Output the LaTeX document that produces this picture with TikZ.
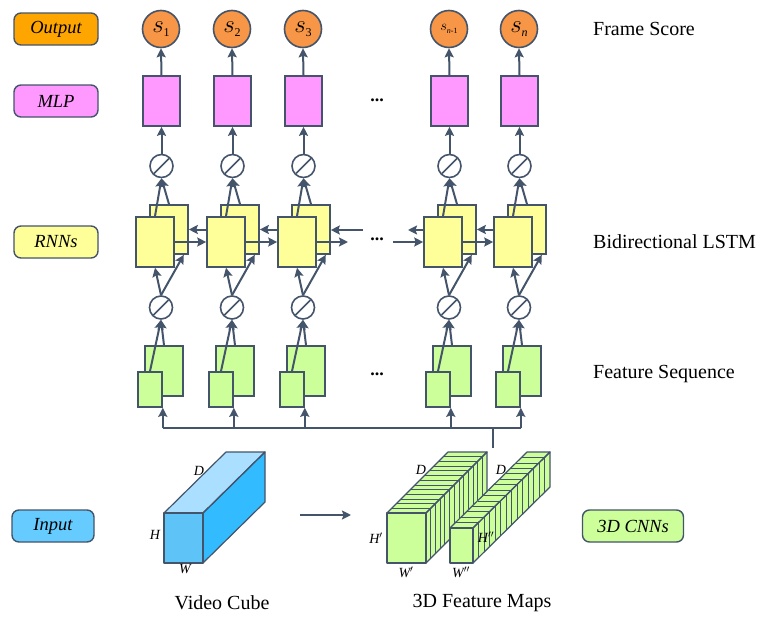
\documentclass[tikz,border=0pt]{standalone}
\usepackage{fontspec}
\setmainfont{Liberation Serif}
\usetikzlibrary{arrows.meta,calc}

\definecolor{edge}{HTML}{44546A}
\definecolor{outorange}{HTML}{FFA500}
\definecolor{scoreorange}{HTML}{F79646}
\definecolor{mlppink}{HTML}{FF99FF}
\definecolor{rnnyellow}{HTML}{FFFF99}
\definecolor{inblue}{HTML}{66CCFF}
\definecolor{cnngreen}{HTML}{CCFF99}
\definecolor{cubefront}{HTML}{5EC4F8}
\definecolor{cubetop}{HTML}{ABDFFF}
\definecolor{cubeside}{HTML}{33BBFF}

% score labels s_i
\newcommand\slab[1]{{\fontsize{23}{23}\selectfont$s$}\raisebox{-3.5pt}{\fontsize{12}{12}\selectfont #1}}
\newcommand\slabsmall[1]{{\fontsize{15}{15}\selectfont$s$}\raisebox{-2.5pt}{\fontsize{8}{8}\selectfont #1}}

\begin{document}
\begin{tikzpicture}[x=1pt,y=-1pt,
  conn/.style={draw=edge,line width=2pt,-{Stealth[length=9pt,width=9pt,inset=1.5pt]}},
  plain/.style={draw=edge,line width=2pt},
  tag/.style={draw=edge,line width=1.4pt,rounded corners=7pt,minimum width=84pt,
    minimum height=32pt,inner sep=0pt,font=\fontsize{18.5}{18.5}\selectfont\itshape},
  score/.style={circle,draw=edge,line width=1.6pt,fill=scoreorange,minimum size=37pt,inner sep=0pt},
  mlpbox/.style={draw=edge,line width=1.6pt,fill=mlppink,minimum width=37pt,minimum height=50pt,inner sep=0pt},
  lstmbox/.style={draw=edge,line width=1.6pt,fill=rnnyellow,minimum width=38pt,minimum height=50pt,inner sep=0pt},
  featbig/.style={draw=edge,line width=1.6pt,fill=cnngreen,minimum width=38pt,minimum height=50pt,inner sep=0pt},
  featsmall/.style={draw=edge,line width=1.6pt,fill=cnngreen,minimum width=24pt,minimum height=35pt,inner sep=0pt},
  gate/.style={circle,draw=edge,line width=1.6pt,fill=white,minimum size=23pt,inner sep=0pt,
    path picture={\draw[edge,line width=1.6pt]
      ([shift={(-7.5pt,-7.5pt)}]path picture bounding box.center) --
      ([shift={(7.5pt,7.5pt)}]path picture bounding box.center);}},
  caption/.style={font=\fontsize{20}{20}\selectfont,anchor=west,inner sep=0pt},
  bottomcap/.style={font=\fontsize{20}{20}\selectfont,inner sep=0pt},
  dimlabel/.style={font=\fontsize{14}{14}\selectfont\itshape,inner sep=0pt},
  dots/.style={font=\fontsize{18}{18}\selectfont\bfseries,inner sep=0pt},
  face/.style={draw=edge,line width=1.2pt,line join=round},
  slice/.style={draw=edge,line width=0.7pt}
]
\useasboundingbox (0,0) rectangle (763,616);

% ---- legend tags on the left and right ----
\node[tag,fill=outorange] (tOut) at (56,29) {Output};
\node[tag,fill=mlppink] (tMlp) at (56,101) {MLP};
\node[tag,fill=rnnyellow] (tRnn) at (56,242) {RNNs};
\node[tag,fill=inblue,minimum width=82pt] (tIn) at (53,526) {Input};
\node[tag,fill=cnngreen,minimum width=101pt] (tCnn) at (633,526) {3D CNNs};

\node[caption] (cFrame) at (593,29) {Frame Score};
\node[caption] (cLstm) at (593,242) {Bidirectional LSTM};
\node[caption] (cFeat) at (593,374) {Feature Sequence};

% ---- per-frame columns ----
\coordinate (bus) at (0,428);
\foreach \i/\cx/\lab in {1/161/{\slab{1}},2/232/{\slab{2}},3/303/{\slab{3}},
                         4/449/{\slabsmall{\itshape n\upshape-1}},5/519/{\slab{\itshape n}}}{
  \node[score] (s\i) at (\cx,29) {\lab};
  \node[mlpbox] (m\i) at (\cx+0.5,101) {};
  \node[gate] (u\i) at (\cx+0.5,166) {};
  \node[lstmbox,minimum height=49pt] (lb\i) at (\cx+8,229.5) {};
  \node[lstmbox] (lf\i) at (\cx-6,242) {};
  \node[gate] (d\i) at (\cx,307.5) {};
  \node[featbig] (gb\i) at (\cx+3,371) {};
  \node[featsmall] (gs\i) at (\cx-11,389.5) {};

  \draw[conn] (m\i.north) -- (s\i.south);
  \draw[conn] (u\i.north) -- (m\i.south);
  \draw[conn] (lf\i.north) -- (u\i.south);
  \draw[conn] (lb\i.north) -- (u\i.south);
  \draw[conn] (d\i.north) -- (lf\i.south);
  \draw[conn] (d\i.north) -- ($(lb\i.south east)+(-5,0)$);
  \draw[conn] (gs\i.north) -- (d\i.south);
  \draw[conn] (gb\i.north) -- (d\i.south);
  \draw[conn] (gs\i.south east |- bus) -- (gs\i.south east);
}

% ---- recurrent links between neighbouring LSTM cells ----
\foreach \i/\j in {1/2,2/3,4/5}{
  \draw[conn] (lf\j.west |- lb\i.east) -- (lb\i.east);
  \draw[conn] (lf\i.east) -- (lf\j.west);
}
\coordinate (gapR) at (363,230);
\coordinate (gapRin) at (348,242);
\coordinate (gapL) at (408,230);
\coordinate (gapLin) at (393,242);
\draw[conn] (gapR) -- (lb3.east |- gapR);
\draw[conn] (lf3.east) -- (gapRin);
\draw[conn] (lf4.west |- gapL) -- (gapL);
\draw[conn] (gapLin) -- (lf4.west);

\node[dots] (dotsA) at (377,100) {...};
\node[dots] (dotsB) at (377,239) {...};
\node[dots] (dotsC) at (377,374) {...};

% ---- bus feeding the feature sequence ----
\draw[plain] (gs1.south east |- bus) -- (gs5.south east |- bus);
\coordinate (stubTop) at (493,428);
\coordinate (stubBot) at (493,448);
\draw[plain] (stubTop) -- (stubBot);

% ---- video cube ----
\fill[cubetop] (164,513) -- (203,513) -- (265,452) -- (226,452) -- cycle;
\fill[cubeside] (203,513) -- (265,452) -- (265,502) -- (203,563) -- cycle;
\fill[cubefront] (164,513) rectangle (203,563);
\draw[face] (164,513) -- (203,513) -- (265,452) -- (226,452) -- cycle;
\draw[face] (203,513) -- (265,452) -- (265,502) -- (203,563) -- cycle;
\draw[face] (164,513) rectangle (203,563);
\node[dimlabel] (cubeD) at (199,471) {D};
\node[dimlabel] (cubeH) at (155,535) {H};
\node[dimlabel] (cubeW) at (185,569) {W};
\node[bottomcap] (capCube) at (222,603) {Video Cube};

\coordinate (cubeOut) at (300,515);
\coordinate (mapsIn) at (351,515);
\draw[conn] (cubeOut) -- (mapsIn);

% ---- first feature map block ----
\fill[cnngreen] (387,513) -- (426,513) -- (487,452) -- (448,452) -- cycle;
\fill[cnngreen] (426,513) -- (487,452) -- (487,502) -- (426,563) -- cycle;
\foreach \k in {1,...,12}{
  \pgfmathsetmacro\t{\k/13}
  \draw[slice] (387+\t*61,513-\t*61) -- (426+\t*61,513-\t*61) -- (426+\t*61,563-\t*61);
}
\draw[face] (387,513) -- (426,513) -- (487,452) -- (448,452) -- cycle;
\draw[face] (426,513) -- (487,452) -- (487,502) -- (426,563) -- cycle;
\draw[face,fill=cnngreen] (387,513) rectangle (426,563);

% ---- second feature map block ----
\fill[cnngreen] (450,528) -- (473,528) -- (550,452) -- (527,452) -- cycle;
\fill[cnngreen] (473,528) -- (550,452) -- (550,487) -- (473,563) -- cycle;
\foreach \k in {1,...,13}{
  \pgfmathsetmacro\t{\k/14}
  \draw[slice] (450+\t*77,528-\t*76) -- (473+\t*77,528-\t*76) -- (473+\t*77,563-\t*76);
}
\draw[face] (450,528) -- (473,528) -- (550,452) -- (527,452) -- cycle;
\draw[face] (473,528) -- (550,452) -- (550,487) -- (473,563) -- cycle;
\draw[face,fill=cnngreen] (450,528) rectangle (473,563);

\node[dimlabel] (fmD1) at (421,470) {D};
\node[dimlabel] (fmH1) at (376,538) {H$'$};
\node[dimlabel] (fmW1) at (406,572) {W$'$};
\node[dimlabel] (fmD2) at (501,470) {D};
\node[dimlabel] (fmH2) at (486,537) {H$''$};
\node[dimlabel] (fmW2) at (461,572) {W$''$};
\node[bottomcap] (capMaps) at (482,603) {3D Feature Maps};
\end{tikzpicture}
\end{document}
